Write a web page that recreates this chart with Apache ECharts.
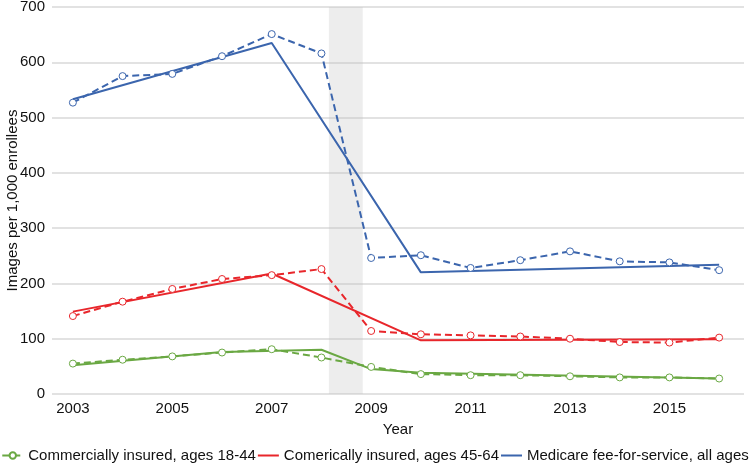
<!DOCTYPE html>
<html>
<head>
<meta charset="utf-8">
<script src="https://cdn.jsdelivr.net/npm/echarts@6/dist/echarts.min.js"></script>
<style>html,body{margin:0;padding:0;background:#fff}#c{width:750px;height:468px}</style>
</head>
<body>
<div id="c"></div>
<script>
const years = [2003,2004,2005,2006,2007,2008,2009,2010,2011,2012,2013,2014,2015,2016];
const xTickLabels = [2003,2005,2007,2009,2011,2013,2015];

const medicareActual = [527,575,579,611,651,616,246,251,228,242,258,240,238,224];
const medicareTrendYears = [2003,2007,2010,2016];
const medicareTrend = [533,635,220,234];

const age4564Actual = [141,167,190,208,215,226,114,108,106,104,100,94,93,102];
const age4564TrendYears = [2003,2007,2010,2016];
const age4564Trend = [149,218,97,99];

const age1844Actual = [55,62,68,75,81,66,49,36,34,34,32,30,30,28];
const age1844TrendYears = [2003,2006,2008,2009,2010,2016];
const age1844Trend = [52,76,80,45,38.5,28];

const shadeRange = [2008.15, 2008.83];

const names = ['Commercially insured, ages 18-44','Comerically insured, ages 45-64','Medicare fee-for-service, all ages'];
const GREEN = '#6aa843', RED = '#e8262b', BLUE = '#3b65ad';

const pair = (xs, ys) => xs.map((x, i) => [x, ys[i]]);
const FONT = '"Liberation Sans", Arial, sans-serif';

function actual(name, vals, color) {
  return {
    name, type: 'line', data: pair(years, vals),
    symbol: 'circle', symbolSize: 7, showSymbol: true,
    lineStyle: {color, width: 2, type: [7, 4]},
    itemStyle: {color: '#fff', borderColor: color, borderWidth: 1},
    emphasis: {disabled: true}, z: 3
  };
}
function trend(name, xs, vals, color) {
  return {
    name, type: 'line', data: pair(xs, vals),
    symbol: 'none', showSymbol: false,
    lineStyle: {color, width: 2, type: 'solid'},
    itemStyle: {color: 'rgba(0,0,0,0)', borderWidth: 0},
    emphasis: {disabled: true}, z: 2
  };
}

const chart = echarts.init(document.getElementById('c'), null, {renderer: 'canvas'});
chart.setOption({
  animation: false,
  textStyle: {fontFamily: FONT},
  grid: {left: 52, right: 6, top: 7, bottom: 74, containLabel: false, outerBoundsMode: 'none'},
  legend: {
    data: names, bottom: 5, left: 'center', padding: 0,
    itemWidth: 21, itemHeight: 8, itemGap: 1,
    textStyle: {fontSize: 15, color: '#111', fontFamily: FONT}
  },
  xAxis: {
    type: 'value', min: 2002.58, max: 2016.5,
    name: 'Year', nameLocation: 'middle', nameGap: 28, nameMoveOverlap: false,
    nameTextStyle: {fontSize: 15, color: '#111', fontFamily: FONT},
    axisLine: {show: false}, axisTick: {show: false}, splitLine: {show: false},
    axisLabel: {customValues: xTickLabels, formatter: v => String(v), fontSize: 15, color: '#111', margin: 7, fontFamily: FONT}
  },
  yAxis: {
    type: 'value', min: 0, max: 700, interval: 100,
    name: 'Images per 1,000 enrollees', nameLocation: 'middle', nameGap: 32, nameRotate: 90, nameMoveOverlap: false,
    nameTextStyle: {fontSize: 15, color: '#111', fontFamily: FONT},
    axisLine: {show: false}, axisTick: {show: false},
    axisLabel: {fontSize: 15, color: '#111', margin: 7, fontFamily: FONT},
    splitLine: {lineStyle: {color: '#d9d9d9', width: 1.5}}
  },
  series: [
    actual(names[0], age1844Actual, GREEN),
    trend('trend18-44', age1844TrendYears, age1844Trend, GREEN),
    trend(names[1], age4564TrendYears, age4564Trend, RED),
    actual('actual45-64', age4564Actual, RED),
    trend(names[2], medicareTrendYears, medicareTrend, BLUE),
    actual('actualMedicare', medicareActual, BLUE),
    {
      name: 'shade', type: 'line', data: [], z: 10, silent: true,
      markArea: {
        silent: true,
        itemStyle: {color: 'rgba(190,190,190,0.27)'},
        data: [[{xAxis: shadeRange[0], yAxis: 0}, {xAxis: shadeRange[1], yAxis: 700}]]
      }
    }
  ]
});
</script>
</body>
</html>
